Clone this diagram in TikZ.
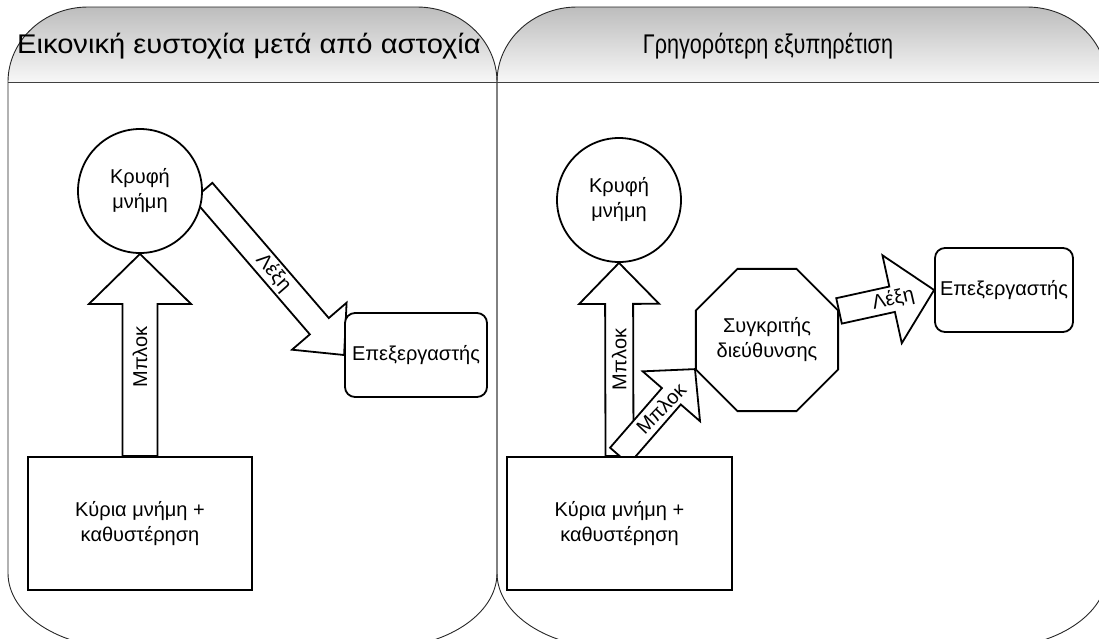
\documentclass[tikz,border=0pt]{standalone}
\usepackage{fontspec}
\setmainfont{Liberation Sans}
\newfontfamily\headfontL{Liberation Sans}[FakeStretch=1.08]
\newfontfamily\headfontR{Liberation Sans}[FakeStretch=0.8]
\usetikzlibrary{calc,shapes.geometric}

\pgfdeclarelayer{panels}
\pgfdeclarelayer{arrows}
\pgfsetlayers{panels,arrows,main}

\definecolor{hdtop}{gray}{0.74}
\definecolor{hdbot}{gray}{0.97}

% block arrow: name, start, tip, shaft half-width, head half-width, head length
\newcommand\blockarrow[6]{%
  \coordinate (#1-s) at (#2);
  \coordinate (#1-t) at (#3);
  \coordinate (#1-b) at ($(#1-t)!#6!(#1-s)$);
  \draw[barrow]
    ($(#1-s)!#4!90:(#1-t)$) -- ($(#1-b)!#4!90:(#1-t)$) --
    ($(#1-b)!#5!90:(#1-t)$) -- (#1-t) --
    ($(#1-b)!#5!-90:(#1-t)$) -- ($(#1-b)!#4!-90:(#1-t)$) --
    ($(#1-s)!#4!-90:(#1-t)$) -- cycle;
}

\begin{document}
\begin{tikzpicture}[x=1pt,y=-1pt,
  panel/.style={draw=black!85, line width=0.9pt},
  headrule/.style={draw=black!75, line width=1pt},
  headtext/.style={anchor=base, inner sep=0pt},
  bodytext/.style={align=center, font=\fontsize{20}{25}\selectfont},
  cachenode/.style={bodytext, circle, draw, line width=1.8pt, fill=white, inner sep=0pt, minimum size=124pt},
  memnode/.style={bodytext, rectangle, draw, line width=2.2pt, fill=white, minimum width=224pt, minimum height=133pt},
  cpunode/.style={bodytext, rectangle, rounded corners=10pt, draw, line width=1.8pt, fill=white, inner sep=0pt},
  cmpnode/.style={bodytext, regular polygon, regular polygon sides=8, draw, line width=1.8pt, fill=white, inner sep=0pt, minimum size=130pt},
  barrow/.style={draw, line width=1.8pt, fill=white, line join=miter},
  lbl/.style={bodytext, inner sep=0pt}]
\useasboundingbox (0,0) rectangle (1099,638);
\clip (0,0) rectangle (1099,638);

% ---- panels with shaded headers ----
\begin{pgfonlayer}{panels}
  \shade[top color=hdtop, bottom color=hdbot]
    (8,82) .. controls (8,40.6) and (43.8,7) .. (88,7) -- (417,7)
    .. controls (461.2,7) and (497,40.6) .. (497,82) -- cycle;
  \shade[top color=hdtop, bottom color=hdbot]
    (497,82) .. controls (497,40.6) and (532.8,7) .. (577,7) -- (1027,7)
    .. controls (1071.2,7) and (1107,40.6) .. (1107,82) -- cycle;
  \draw[panel]
    (8,573) -- (8,82) .. controls (8,40.6) and (43.8,7) .. (88,7) -- (417,7)
    .. controls (461.2,7) and (497,40.6) .. (497,82) -- (497,573)
    .. controls (497,614.4) and (445.5,648) .. (382,648) -- (123,648)
    .. controls (59.5,648) and (8,614.4) .. (8,573) -- cycle;
  \draw[panel]
    (497,573) -- (497,82) .. controls (497,40.6) and (532.8,7) .. (577,7) -- (1027,7)
    .. controls (1071.2,7) and (1107,40.6) .. (1107,82) -- (1107,573)
    .. controls (1107,614.4) and (1055.5,648) .. (992,648) -- (612,648)
    .. controls (548.5,648) and (497,614.4) .. (497,573) -- cycle;
  \draw[headrule] (8,82) -- (1107,82);
\end{pgfonlayer}

\node[headtext, font=\headfontL\fontsize{27}{32}\selectfont] (titleL) at (249,53) {Εικονική ευστοχία μετά από αστοχία};
\node[headtext, font=\headfontR\fontsize{27}{32}\selectfont] (titleR) at (768,53) {Γρηγορότερη εξυπηρέτιση};

% ---- left panel ----
\node[cachenode] (cacheL) at (140,191) {Κρυφή\\μνήμη};
\node[memnode] (memL) at (140,523.5) {Κύρια μνήμη +\\καθυστέρηση};
\node[cpunode, minimum width=142pt, minimum height=84pt] (cpuL) at (416,355) {Επεξεργαστής};

% ---- right panel ----
\node[cachenode] (cacheR) at (619,200) {Κρυφή\\μνήμη};
\node[memnode, minimum width=225pt] (memR) at (619.5,523.5) {Κύρια μνήμη +\\καθυστέρηση};
\node[cmpnode] (cmp) at (767,340) {Συγκριτής\\διεύθυνσης};
\node[cpunode, minimum width=138pt, minimum height=84pt] (cpuR) at (1004,290) {Επεξεργαστής};

% ---- block arrows ----
\begin{pgfonlayer}{arrows}
  \blockarrow{blkL}{memL.north}{cacheL.south}{17.5pt}{51pt}{50pt}
  \blockarrow{wrdL}{cacheL.east}{cpuL.west}{12.5pt}{36pt}{38pt}
  \blockarrow{blkR}{memR.north}{cacheR.south}{14pt}{40pt}{41pt}
  \blockarrow{blkC}{memR.north}{cmp.202.5}{12.5pt}{38pt}{36pt}
  \blockarrow{wrdR}{cmp.22.5}{cpuR.west}{13pt}{45pt}{43pt}
\end{pgfonlayer}

\node[lbl, rotate=90] (tBlkL) at ($(blkL-s)!0.49!(blkL-t)$) {Μπλοκ};
\node[lbl, rotate=-49] (tWrdL) at ($(wrdL-s)!0.5!(wrdL-t)$) {Λέξη};
\node[lbl, rotate=90] (tBlkR) at ($(blkR-s)!0.5!(blkR-t)$) {Μπλοκ};
\node[lbl, rotate=46] (tBlkC) at ($(blkC-s)!0.55!(blkC-t)$) {Μπλοκ};
\node[lbl, rotate=13] (tWrdR) at ($(wrdR-s)!0.57!(wrdR-t)$) {Λέξη};
\end{tikzpicture}
\end{document}
